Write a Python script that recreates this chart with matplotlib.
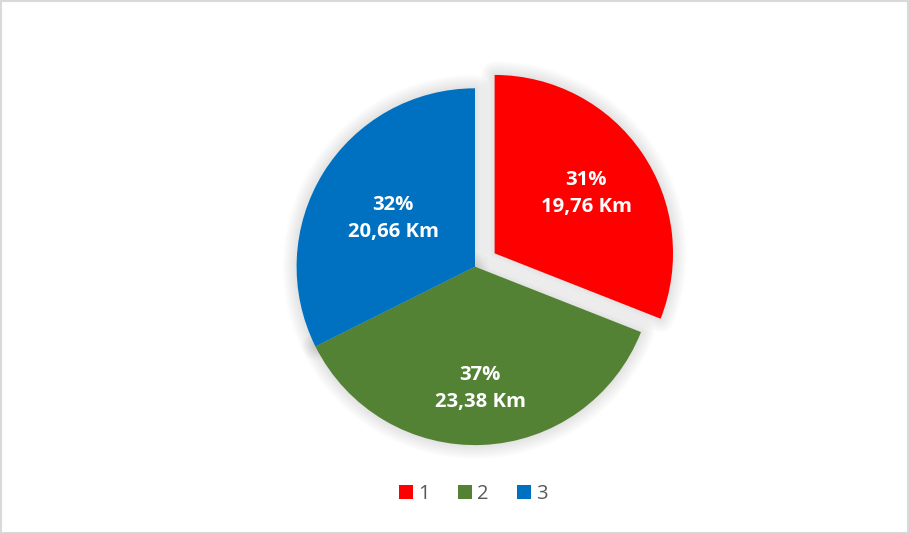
import matplotlib
matplotlib.use("Agg")
import matplotlib.pyplot as plt
import numpy as np
from matplotlib.patches import Rectangle, Wedge

categories = ["1", "2", "3"]
values = [19.76, 23.38, 20.66]
colors = ["#FF0000", "#548235", "#0070C0"]
explode = [0.133, 0, 0]
label_dist = [0.62, 0.67, 0.54]

W, H = 909, 533
fig = plt.figure(figsize=(W / 100, H / 100), dpi=100)
fig.patch.set_facecolor("white")

# pie axes: center (475, 266 from bottom), radius 178 px
R = 178.4
cx, cy = 475, 266.3
lim = 1.3
half = R * lim
ax = fig.add_axes([(cx - half) / W, (cy - half) / H, 2 * half / W, 2 * half / H])

wedges, _ = ax.pie(values, colors=colors, explode=explode, startangle=90,
                   counterclock=False, radius=1.0,
                   wedgeprops=dict(linewidth=0, zorder=3))
ax.set_xlim(-lim, lim)
ax.set_ylim(-lim, lim)
ax.set_aspect("equal")
ax.axis("off")

# soft outer shadow
for w in wedges:
    for lw in np.arange(2, 30, 2):
        sh = Wedge(w.center, w.r, w.theta1, w.theta2, facecolor="none",
                   edgecolor="black", linewidth=lw * 0.72, alpha=0.008,
                   joinstyle="round", zorder=1)
        ax.add_patch(sh)

total = sum(values)
dy = 2.5 / R
for w, v, d in zip(wedges, values, label_dist):
    ang = np.deg2rad((w.theta1 + w.theta2) / 2)
    x = w.center[0] + d * np.cos(ang)
    y = w.center[1] + d * np.sin(ang) - dy
    pct = round(v / total * 100)
    txt = f"{pct}%\n{v:.2f}".replace(".", ",") + " Km"
    ax.text(x, y, txt, ha="center", va="center", color="white",
            fontsize=14.6, fontweight="bold", family="Open Sans",
            linespacing=1.5, zorder=5)

leg = fig.legend(wedges, categories, loc="center", ncol=3,
                 bbox_to_anchor=(473.5 / W, 1 - 494 / H), frameon=False,
                 handlelength=0.7, handleheight=0.7, handletextpad=0.25,
                 columnspacing=1.4, prop=dict(family="Open Sans", size=14.5))
for t in leg.get_texts():
    t.set_color("#595959")

fig.patches.append(Rectangle((0.5 / W, 0.5 / H), 1 - 1.5 / W, 1 - 1.5 / H,
                             transform=fig.transFigure, fill=False,
                             edgecolor="#D9D9D9", linewidth=1.5))

fig.savefig("out.png", dpi=100, facecolor="white")
